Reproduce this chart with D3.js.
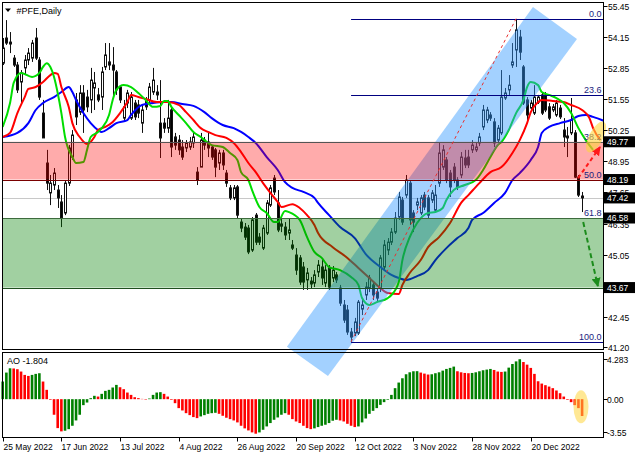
<!DOCTYPE html>
<html><head><meta charset="utf-8">
<script src="https://cdn.jsdelivr.net/npm/d3@7"></script>
<style>body{margin:0;background:#fff}svg{display:block}text{font-family:"Liberation Sans",Arial,sans-serif}</style>
</head><body><svg id="c" width="640" height="457"></svg>
<script>
// ---------------- DATA ----------------
const dateTickBars = [0,16,32,48,64,80,96,112,128,144];
const dateLabels = ["25 May 2022","17 Jun 2022","13 Jul 2022","4 Aug 2022","26 Aug 2022","20 Sep 2022","12 Oct 2022","3 Nov 2022","28 Nov 2022","20 Dec 2022"];
const priceTicks = [55.45,54.15,52.85,51.55,50.25,48.95,47.65,46.35,45.05,43.75,42.45,41.20];
const priceTickLabels = ["55.45","54.15","52.85","51.55","50.25","48.95","47.65","46.35","45.05","43.75","42.45","41.20"];
const markedPrices = [49.77,48.19,47.42,46.58,43.67];
const aoTicks = [4.283,0,-3.55];
const aoTickLabels = ["4.283","0.00","-3.55"];
const lastPrice = 47.42;
const aoLast = -1.804;

const openP = [
53.06,54.11,53.94,53.27,52.98,52.27,52.86,53.19,53.27,54.11,
53.19,50.97,48.88,47.63,47.96,47.75,47.25,46.79,48.04,49.13,
51.52,51.01,51.81,51.64,51.52,52.02,51.73,51.64,52.90,53.11,
52.98,52.69,52.06,50.76,51.39,50.76,51.39,51.31,50.55,51.52,
51.52,51.85,51.85,50.55,50.55,50.34,51.10,49.97,49.84,49.55,
49.51,49.55,49.72,48.50,48.71,49.84,49.76,49.55,49.43,48.88,
49.30,48.46,47.84,47.42,47.88,46.41,46.20,46.16,45.24,46.70,
45.78,45.32,45.95,47.12,48.25,47.21,46.33,46.20,45.95,45.45,
45.03,44.91,44.53,43.99,43.94,43.86,44.32,44.53,43.86,44.49,
44.07,44.20,43.65,42.94,42.73,41.81,41.77,41.77,42.77,43.36,
43.65,43.78,43.48,43.65,44.53,45.24,45.57,45.99,46.62,47.33,
47.54,48.04,46.79,47.12,46.79,47.54,47.42,47.33,46.91,48.04,
48.71,49.01,48.46,48.71,48.17,48.38,49.09,49.13,49.43,49.43,
49.72,50.39,50.68,50.89,50.60,49.84,50.14,51.60,51.94,52.98,
53.61,54.15,52.90,51.52,51.18,50.97,51.43,51.73,51.73,51.23,
51.10,50.89,51.18,50.26,49.93,50.14,50.14,48.29,47.50];
const closeP = [
53.69,53.90,53.86,52.98,51.94,52.65,53.19,53.48,53.90,53.27,
51.64,49.93,48.04,48.04,48.46,47.42,46.58,48.04,49.51,50.05,
50.81,51.81,51.10,51.23,52.35,52.23,51.52,52.69,53.40,52.98,
52.77,51.94,51.52,51.23,51.81,51.64,50.81,50.97,51.10,51.23,
52.06,52.35,51.73,49.93,50.34,50.76,49.55,49.63,49.43,49.13,
49.72,49.76,49.97,48.17,49.84,49.63,49.51,49.13,48.71,49.30,
48.80,48.04,47.42,47.84,46.70,46.16,45.78,45.16,46.50,45.57,
45.57,46.16,47.21,47.84,47.67,46.08,46.24,45.87,46.08,45.32,
44.40,43.90,43.90,44.28,43.82,44.20,44.61,44.07,44.40,43.69,
44.40,43.99,43.02,42.31,41.81,41.60,42.23,43.06,42.94,43.69,
44.07,43.36,43.23,44.91,45.45,45.57,45.99,46.58,47.46,46.41,
48.17,46.50,46.41,47.25,47.42,47.04,46.70,47.63,47.54,49.30,
49.43,48.17,47.88,48.17,47.88,49.13,48.80,48.80,49.63,49.55,
49.97,51.10,51.10,50.76,49.72,50.34,51.64,51.81,52.14,53.11,
54.45,53.52,51.39,50.89,51.39,51.64,51.64,50.97,51.10,50.76,
51.23,51.39,50.81,49.97,50.01,50.68,48.29,47.54,47.42];
const highP = [
54.11,54.86,54.36,53.40,53.11,52.77,53.40,53.69,54.03,54.53,
53.31,51.52,49.43,48.38,48.67,47.96,47.54,48.17,49.63,50.26,
51.81,52.14,52.14,51.94,52.86,52.69,52.02,52.90,53.90,53.90,
53.73,52.77,52.14,51.52,51.94,51.85,51.52,51.52,51.31,51.64,
52.23,52.86,52.14,52.35,50.76,51.52,51.23,50.14,50.05,49.84,
49.84,49.97,50.14,48.71,50.14,49.97,50.14,49.63,49.51,49.43,
49.43,48.59,47.96,47.96,47.96,46.58,46.37,46.29,46.62,46.79,
45.95,46.29,47.33,47.96,48.38,47.75,46.58,46.41,46.58,45.66,
45.32,45.03,44.74,44.49,44.11,44.40,44.82,44.82,44.61,44.61,
44.57,44.32,43.78,43.15,42.94,41.98,42.40,43.15,43.15,43.90,
44.20,43.90,43.65,45.03,45.66,45.74,46.16,46.83,47.67,47.46,
48.38,48.17,46.91,47.42,47.54,47.67,47.54,47.75,47.96,49.76,
49.63,49.13,48.59,48.88,48.29,49.34,49.43,49.43,49.84,49.72,
50.14,51.31,51.23,51.01,50.76,50.47,52.77,52.02,52.56,53.90,
54.90,54.45,52.98,51.64,51.52,52.14,51.73,51.85,51.85,51.39,
51.35,51.52,51.31,50.76,50.39,51.60,50.26,48.38,47.67];
const lowP = [
52.98,53.82,53.48,52.90,51.81,51.39,52.56,52.98,53.11,53.19,
51.52,49.93,47.75,47.12,47.75,47.00,46.20,46.70,47.92,49.01,
50.47,50.89,50.14,51.01,50.97,51.10,51.43,51.10,52.77,52.77,
51.64,51.73,51.39,50.60,51.18,50.68,50.68,50.76,50.14,51.10,
51.39,51.73,51.52,49.09,50.14,50.14,49.13,49.43,49.22,49.01,
49.34,49.43,49.51,47.96,48.71,49.43,49.13,49.01,48.29,48.59,
48.59,47.88,47.33,47.33,46.58,45.99,45.66,45.07,45.16,45.45,
45.45,45.24,45.87,47.04,47.54,45.99,45.99,45.66,45.66,45.24,
44.20,43.78,43.57,43.57,43.65,43.69,44.11,43.78,43.69,43.57,
43.90,43.86,42.90,42.19,41.69,41.40,41.64,41.69,42.52,43.15,
43.48,43.15,43.06,43.48,44.40,45.03,45.45,45.91,46.50,46.29,
47.42,46.29,45.99,46.91,46.70,46.91,46.58,47.21,46.83,47.88,
48.59,48.04,47.46,48.04,47.75,48.25,48.67,48.67,49.30,49.34,
49.59,50.26,50.55,50.64,49.55,49.72,50.05,51.52,51.73,52.86,
52.90,53.19,51.31,50.60,51.10,50.89,51.35,50.89,51.01,50.68,
51.01,50.81,50.72,49.55,49.13,50.05,48.25,47.46,46.83];

// Alligator lines (bar index, price)
const lipsBar = [0,2,3,5,8,10,11,12,13,14,15,16,17,19,20,22,23,24,26,27,29,30,31,33,35,37,39,41,43,44,45,46,48,50,52,54,56,57,60,62,64,65,67,68,70,72,74,75,77,78,81,83,85,87,89,92,95,97,98,100,102,105,106,108,109,111,113,116,118,120,121,123,126,129,131,133,135,136,138,140,142,143,144,146,147,149,151,153,155,157,159,161];
const lipsVal = [50.39,51.39,52.23,52.65,52.48,52.65,52.90,53.06,52.90,52.48,51.81,50.97,49.97,49.13,48.88,48.92,49.43,49.97,50.18,50.34,50.89,51.52,51.94,52.14,52.06,51.81,51.52,51.23,51.27,51.48,51.48,51.23,50.89,50.55,50.18,49.97,49.72,49.63,49.55,49.30,49.01,48.50,48.17,47.75,47.04,46.79,46.41,46.41,46.87,46.83,46.50,45.78,45.16,44.91,44.53,44.40,44.11,43.78,43.23,42.94,43.06,43.23,43.36,43.90,44.82,45.78,46.37,46.79,46.83,47.00,47.33,47.75,47.96,48.17,48.59,49.13,49.63,49.76,50.26,50.97,51.52,52.06,52.27,52.14,51.85,51.73,51.60,51.39,50.97,50.34,49.84,49.43];
const teethBar = [0,2,4,6,7,9,11,13,14,15,16,18,19,21,23,25,26,28,30,32,34,35,37,39,42,45,48,50,52,54,56,58,61,63,65,67,69,71,73,75,76,79,81,83,85,86,90,94,97,100,103,105,108,109,111,114,116,119,122,125,127,130,133,136,139,141,143,144,146,147,150,153,155,158,160,161,163];
const teethVal = [49.97,50.14,50.97,51.64,51.98,52.06,52.27,52.56,52.65,52.61,52.06,51.23,50.55,49.97,49.68,49.97,50.26,50.39,50.60,50.97,51.43,51.73,51.64,51.56,51.43,51.43,51.31,51.01,50.68,50.34,50.18,50.05,49.93,49.72,49.34,48.88,48.50,48.04,47.63,47.25,47.04,47.16,47.00,46.70,46.29,45.95,45.36,44.91,44.49,44.07,43.65,43.44,43.40,43.78,44.28,44.82,45.36,45.78,46.37,47.21,47.54,48.04,48.50,48.71,49.30,49.84,50.55,51.01,51.43,51.52,51.48,51.43,51.31,51.10,50.76,50.34,49.84];
const jawBar = [0,4,7,9,11,14,16,18,19,20,22,24,26,27,29,31,34,35,38,41,44,46,49,52,55,57,60,63,65,67,69,72,75,77,79,82,85,86,89,92,96,99,103,106,108,110,113,116,118,121,124,127,128,131,134,137,139,141,144,146,147,149,152,155,157,159,161,164];
const jawVal = [49.97,50.14,50.55,51.10,51.39,51.64,51.85,52.06,51.85,51.52,50.97,50.55,50.26,50.18,50.34,50.55,50.68,50.89,51.31,51.39,51.43,51.43,51.35,51.27,51.01,50.76,50.47,50.34,50.18,49.97,49.72,49.13,48.59,48.08,47.84,47.67,47.42,47.21,46.70,46.20,45.74,45.07,44.53,44.20,44.07,43.99,44.15,44.40,44.82,45.32,45.74,46.16,46.50,46.79,47.21,47.63,48.17,48.46,49.01,49.55,50.14,50.39,50.55,50.68,50.85,50.89,50.81,50.64];

const aoVal = [1.89,2.85,3.31,3.29,3.21,2.96,2.60,2.49,2.60,2.71,
2.78,1.89,1.00,-0.07,-1.67,-3.10,-3.45,-3.38,-3.21,-2.85,
-2.28,-1.67,-0.64,-0.36,0.11,0.36,0.28,0.57,0.89,1.00,
1.25,1.53,1.28,1.07,0.71,0.46,0.21,0.11,0.03,-0.05,
0.07,0.46,0.71,0.75,0.57,0.28,-0.07,-0.43,-0.96,-1.21,
-1.50,-1.71,-1.92,-2.03,-1.85,-1.71,-1.57,-1.50,-1.46,-1.57,
-1.78,-1.99,-2.14,-2.28,-2.49,-2.85,-3.13,-3.35,-3.56,-3.70,
-3.56,-3.28,-2.92,-2.56,-2.21,-1.96,-1.67,-1.50,-1.67,-2.14,
-2.39,-2.56,-2.85,-3.10,-3.21,-3.13,-2.99,-2.85,-2.74,-2.56,
-2.31,-2.21,-2.28,-2.39,-2.64,-2.85,-2.99,-2.92,-2.49,-2.07,
-1.57,-1.25,-0.96,-0.61,-0.32,-0.07,0.46,1.18,1.78,2.24,
2.67,2.88,2.99,3.00,2.85,2.74,2.64,2.67,2.78,2.88,
3.06,3.24,3.35,3.49,2.99,2.88,2.81,2.78,2.81,2.88,
2.99,3.10,3.17,3.24,3.13,2.96,2.92,2.96,3.38,3.77,
4.05,4.28,3.98,3.70,3.35,2.71,1.92,1.67,1.50,1.35,
1.18,0.93,0.64,0.28,-0.07,-0.32,-0.64,-0.96,-1.804];

// Fibonacci and annotation anchors (bar index, price)
const fibLevels = [0,23.6,38.2,50,61.8,100];
const fibLabels = ["0.0","23.6","38.2","50.0","61.8","100.0"];
const fibHigh = 54.92, fibHighBar = 140, fibLow = 41.40, fibLowBar = 95;
const redZone = [49.77,48.19];
const greenZone = [46.58,43.67];
const channelBars = [77.5,88.7,156.6,144.6];
const channelPrices = [41.19,39.97,54.07,55.41];
const upArrowBars = [156.9,162.9], upArrowPrices = [48.25,49.55];
const downArrowBars = [158.3,162.3], downArrowPrices = [46.41,43.73];

// ---------------- DRAW ----------------
const L=2.5,R=603.5,T=2.5,B=349.5,AT=352.5,AB=437.5;
const x = d3.scaleLinear().domain([0,158]).range([2.7,582.1]);
const y = d3.scaleLinear().domain([41.20,55.45]).range([346.6,6]);
const ya = d3.scaleLinear().domain([-3.55,4.283]).range([432.3,359.2]);
const FONT = "8.5px";

const svg = d3.select("#c");
svg.append("rect").attr("width",640).attr("height",457).attr("fill","#fff");
const defs = svg.append("defs");
defs.append("clipPath").attr("id","mainClip").append("rect").attr("x",L).attr("y",T).attr("width",R-L).attr("height",B-T);
function marker(id,color){
  defs.append("marker").attr("id",id).attr("viewBox","0 0 10 10").attr("refX",9).attr("refY",5)
   .attr("markerWidth",9).attr("markerHeight",9).attr("markerUnits","userSpaceOnUse").attr("orient","auto")
   .append("path").attr("d","M0,0L10,5L0,10Z").attr("fill",color);
}
marker("arrR","#ff1a1a"); marker("arrG","#1c8c1c");

const main = svg.append("g").attr("clip-path","url(#mainClip)");
// bid line
main.append("line").attr("x1",L).attr("x2",R).attr("y1",Math.round(y(lastPrice))+0.5).attr("y2",Math.round(y(lastPrice))+0.5)
  .attr("stroke","#c8c8c8");

const bars = d3.range(openP.length);
main.selectAll("line.wick").data(bars).join("line").attr("class","wick")
  .attr("x1",i=>Math.round(x(i))+0.5).attr("x2",i=>Math.round(x(i))+0.5)
  .attr("y1",i=>y(highP[i])).attr("y2",i=>y(lowP[i])).attr("stroke","#111").attr("stroke-width",1);
main.selectAll("rect.body").data(bars).join("rect").attr("class","body")
  .attr("x",i=>Math.round(x(i))-0.5).attr("width",2)
  .attr("y",i=>y(Math.max(openP[i],closeP[i])))
  .attr("height",i=>Math.max(0.8,Math.abs(y(openP[i])-y(closeP[i]))))
  .attr("fill",i=>closeP[i]>=openP[i]?"#fff":"#000").attr("stroke","#111").attr("stroke-width",1);

const lg = d3.line().x(d=>x(d[0])).y(d=>y(d[1])).curve(d3.curveMonotoneX);
[[jawBar,jawVal,"#0000ff"],[teethBar,teethVal,"#ff0000"],[lipsBar,lipsVal,"#00dd00"]].forEach(([b,v,c])=>{
  main.append("path").attr("d",lg(b.map((d,k)=>[d,v[k]]))).attr("fill","none").attr("stroke",c).attr("stroke-width",2);
});

// channel
svg.append("path").attr("d","M"+channelBars.map((b,k)=>x(b)+","+y(channelPrices[k])).join("L")+"Z")
  .attr("fill","rgba(51,153,255,0.45)");

// zones
const zg = svg.append("g");
zg.append("rect").attr("x",L).attr("width",R-L).attr("y",y(redZone[0])).attr("height",y(redZone[1])-y(redZone[0]))
  .attr("fill","rgba(255,0,0,0.33)");
zg.append("rect").attr("x",L).attr("width",R-L).attr("y",y(greenZone[0])).attr("height",y(greenZone[1])-y(greenZone[0]))
  .attr("fill","rgba(0,128,0,0.37)");

// fib
const fibPrice = r => fibHigh - r/100*(fibHigh-fibLow);
fibLevels.forEach((r,k)=>{
  const yy = Math.round(y(fibPrice(r)))+0.5;
  svg.append("line").attr("x1",x(fibLowBar)).attr("x2",R).attr("y1",yy).attr("y2",yy).attr("stroke","#000080").attr("stroke-width",1);
  svg.append("text").attr("x",R-2).attr("y",yy-2.5).attr("text-anchor","end").attr("font-size","9px").attr("fill","#1a237e").text(fibLabels[k]);
});
[[redZone[0],"#555555"],[redZone[1],"#7a0000"],[greenZone[0],"#3d6b3d"],[greenZone[1],"#1f4f1f"]].forEach(([p,c])=>{
  const yy = Math.round(y(p))+0.5;
  svg.append("line").attr("x1",L).attr("x2",R).attr("y1",yy).attr("y2",yy).attr("stroke",c).attr("stroke-width",1.2);
});
svg.append("line").attr("x1",x(fibLowBar)).attr("y1",y(fibLow)).attr("x2",x(fibHighBar)).attr("y2",y(fibHigh))
  .attr("stroke","#e83030").attr("stroke-width",1).attr("stroke-dasharray","3,3");

// arrows
svg.append("line").attr("x1",x(upArrowBars[0])).attr("y1",y(upArrowPrices[0])).attr("x2",x(upArrowBars[1])).attr("y2",y(upArrowPrices[1]))
  .attr("stroke","#ff1a1a").attr("stroke-width",2).attr("stroke-dasharray","4,3").attr("marker-end","url(#arrR)");
svg.append("line").attr("x1",x(downArrowBars[0])).attr("y1",y(downArrowPrices[0])).attr("x2",x(downArrowBars[1])).attr("y2",y(downArrowPrices[1]))
  .attr("stroke","#1c8c1c").attr("stroke-width",2).attr("stroke-dasharray","5,3").attr("marker-end","url(#arrG)");

// AO histogram
const aog = svg.append("g");
aog.selectAll("rect").data(bars).join("rect")
  .attr("x",i=>x(i)-1.3).attr("width",2.6)
  .attr("y",i=>Math.min(ya(0),ya(aoVal[i]))).attr("height",i=>Math.abs(ya(aoVal[i])-ya(0)))
  .attr("fill",i=>(i===0||aoVal[i]>aoVal[i-1])?"#008000":"#ff0000");

// highlight ellipses
svg.append("ellipse").attr("cx",x(157.7)).attr("cy",ya(-0.82)).attr("rx",7.5).attr("ry",16.5)
  .attr("fill","rgba(255,214,60,0.55)");
svg.append("ellipse").attr("cx",0).attr("cy",0).attr("rx",7).attr("ry",17)
  .attr("transform",`translate(${x(161.8)},${y(49.97)}) rotate(28)`)
  .attr("fill","rgba(255,214,60,0.6)");

// frames
const fr = svg.append("g").attr("fill","none").attr("stroke","#000").attr("stroke-width",1);
fr.append("rect").attr("x",L).attr("y",T).attr("width",R-L).attr("height",B-T);
fr.append("rect").attr("x",L).attr("y",AT).attr("width",R-L).attr("height",AB-AT);

// price axis
priceTicks.forEach((p,k)=>{
  const yy = Math.round(y(p))+0.5;
  svg.append("line").attr("x1",R).attr("x2",R+4).attr("y1",yy).attr("y2",yy).attr("stroke","#000");
  svg.append("text").attr("x",608).attr("y",yy+3).attr("font-size",FONT).attr("fill","#000").text(priceTickLabels[k]);
});
markedPrices.forEach(p=>{
  const yy = y(p);
  svg.append("rect").attr("x",R+0.5).attr("y",yy-5.5).attr("width",31).attr("height",11).attr("fill","#000");
  svg.append("text").attr("x",607).attr("y",yy+3).attr("font-size",FONT).attr("fill","#fff").text(p.toFixed(2));
});
aoTicks.forEach((v,k)=>{
  const yy = Math.round(ya(v))+0.5;
  svg.append("line").attr("x1",R).attr("x2",R+4).attr("y1",yy).attr("y2",yy).attr("stroke","#000");
  svg.append("text").attr("x",607).attr("y",yy+3).attr("font-size",FONT).attr("fill","#000").text(aoTickLabels[k]);
});
// date axis
dateTickBars.forEach((b,k)=>{
  const xx = Math.round(x(b))+0.5;
  svg.append("line").attr("x1",xx).attr("x2",xx).attr("y1",AB).attr("y2",AB+4).attr("stroke","#000");
  svg.append("text").attr("x",xx).attr("y",450).attr("font-size",FONT).attr("fill","#000").text(dateLabels[k]);
});

// titles
svg.append("path").attr("d","M5,8.5L11,8.5L8,12Z").attr("fill","#000");
svg.append("text").attr("x",16.5).attr("y",13.5).attr("font-size","9px").attr("fill","#000").text("#PFE,Daily");
svg.append("text").attr("x",7).attr("y",364).attr("font-size","9px").attr("fill","#000").text("AO "+aoLast.toFixed(3));
</script></body></html>
